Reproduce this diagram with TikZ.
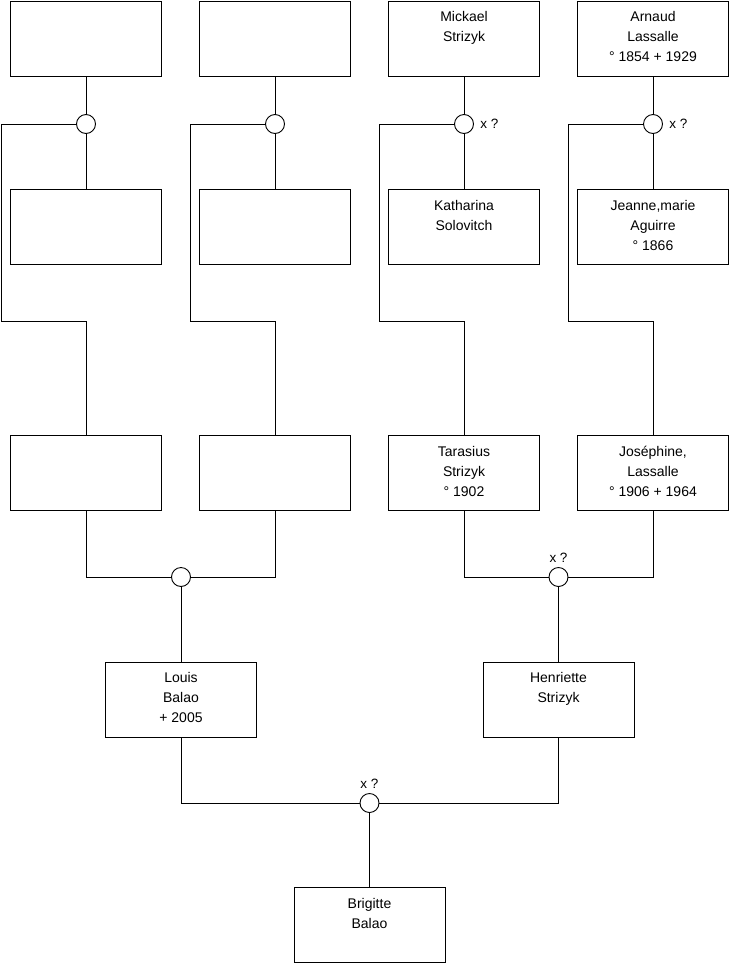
\documentclass[tikz,border=0pt]{standalone}
\usepackage{fontspec}
\setmainfont{Liberation Sans}
\begin{document}
\begin{tikzpicture}[x=1pt,y=-1pt,
  line width=0.9pt,
  person/.style={draw, minimum width=151pt, minimum height=75pt, inner sep=0pt, fill=white},
  txt/.style={anchor=north, align=center, inner sep=0pt, font=\fontsize{14}{20}\selectfont, yshift=-10.5pt},
  union/.style={draw, circle, minimum size=19pt, inner sep=0pt, fill=white},
  lbl/.style={inner sep=0pt, font=\fontsize{13.5}{16}\selectfont}]
\useasboundingbox (0,0) rectangle (740,975);
% row 1
\node[person] (a1) at (86,38.5) {};
\node[person] (b1) at (275,38.5) {};
\node[person] (c1) at (464,38.5) {};
\node[txt] (tc1) at (c1.north) {Mickael\\Strizyk};
\node[person] (d1) at (653,38.5) {};
\node[txt] (td1) at (d1.north) {Arnaud\\Lassalle\\° 1854 + 1929};
% unions row 1
\node[union] (ua) at (86,124) {};
\node[union] (ub) at (275,124) {};
\node[union] (uc) at (464,124) {};
\node[lbl, anchor=west] (luc) at ([xshift=6pt]uc.east) {x ?};
\node[union] (ud) at (653,124) {};
\node[lbl, anchor=west] (lud) at ([xshift=6pt]ud.east) {x ?};
% row 2
\node[person] (a2) at (86,227) {};
\node[person] (b2) at (275,227) {};
\node[person] (c2) at (464,227) {};
\node[txt] (tc2) at (c2.north) {Katharina\\Solovitch};
\node[person] (d2) at (653,227) {};
\node[txt] (td2) at (d2.north) {Jeanne,marie\\Aguirre\\° 1866};
% row 3
\node[person] (a3) at (86,473) {};
\node[person] (b3) at (275,473) {};
\node[person] (c3) at (464,473) {};
\node[txt] (tc3) at (c3.north) {Tarasius\\Strizyk\\° 1902};
\node[person] (d3) at (653,473) {};
\node[txt] (td3) at (d3.north) {Joséphine,\\Lassalle\\° 1906 + 1964};
% unions row 3
\node[union] (ue) at (181,577) {};
\node[union] (uf) at (558.5,577) {};
\node[lbl, anchor=south] (luf) at ([yshift=4pt]uf.north) {x ?};
% row 4
\node[person] (louis) at (181,699.5) {};
\node[txt] (tlouis) at (louis.north) {Louis\\Balao\\+ 2005};
\node[person] (henr) at (558.5,699.5) {};
\node[txt] (thenr) at (henr.north) {Henriette\\Strizyk};
% union row 4
\node[union] (ug) at (369.5,803) {};
\node[lbl, anchor=south] (lug) at ([yshift=4pt]ug.north) {x ?};
% row 5
\node[person] (brig) at (369.5,925) {};
\node[txt] (tbrig) at (brig.north) {Brigitte\\Balao};
% joints
\coordinate (ka) at (1,124);
\coordinate (kb) at (190,124);
\coordinate (kc) at (379,124);
\coordinate (kd) at (568,124);
\coordinate (ja) at (86,321);
\coordinate (jb) at (275,321);
\coordinate (jc) at (464,321);
\coordinate (jd) at (653,321);
% connectors
\foreach \p/\u/\k/\j in {a/ua/ka/ja, b/ub/kb/jb, c/uc/kc/jc, d/ud/kd/jd}{
  \draw (\p1) -- (\u);
  \draw (\u) -- (\p2);
  \draw (\u.west) -- (\k) |- (\j) -- (\p3.north);
}
\draw (a3.south) |- (ue.west);
\draw (ue.east) -| (b3.south);
\draw (ue) -- (louis);
\draw (c3.south) |- (uf.west);
\draw (uf.east) -| (d3.south);
\draw (uf) -- (henr);
\draw (louis.south) |- (ug.west);
\draw (ug.east) -| (henr.south);
\draw (ug) -- (brig);
\end{tikzpicture}
\end{document}
